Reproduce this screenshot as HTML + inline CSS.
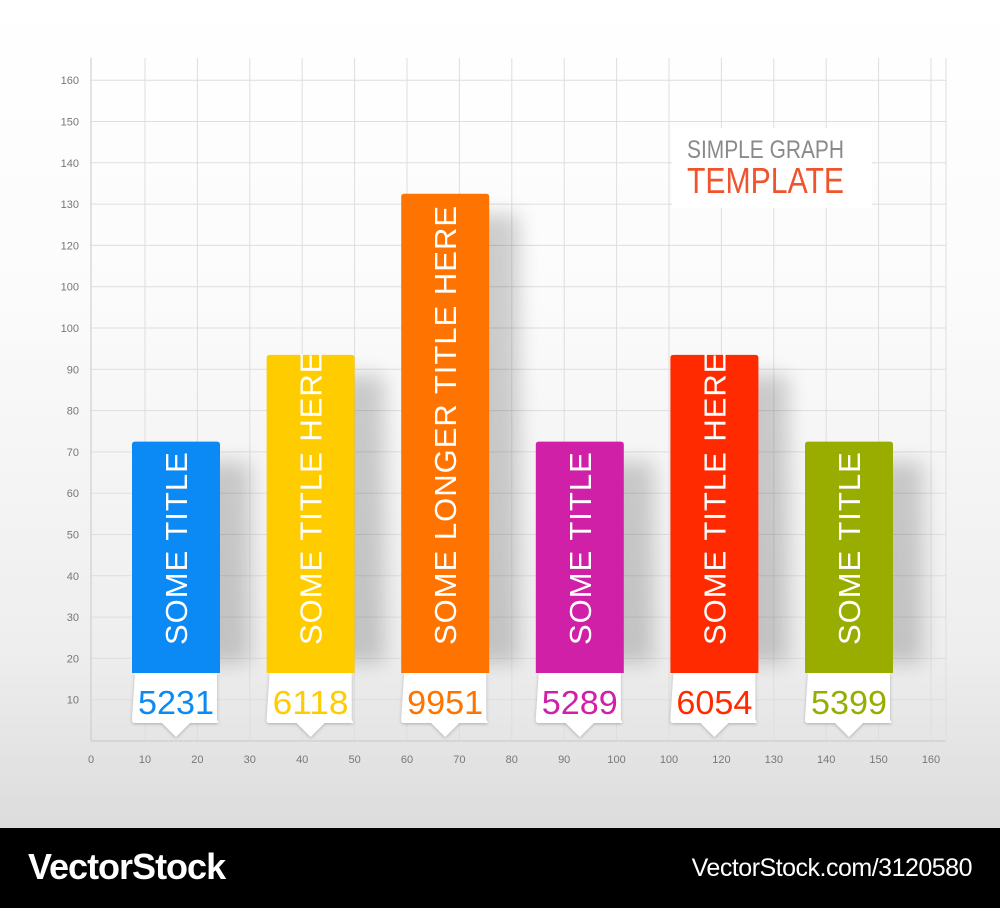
<!DOCTYPE html>
<html><head><meta charset="utf-8">
<style>
html,body{margin:0;padding:0}
body{width:1000px;height:908px;position:relative;overflow:hidden;font-family:"Liberation Sans",sans-serif;
background:linear-gradient(#ffffff 0px,#fbfbfb 300px,#eeeeee 650px,#dcdcdc 828px);}
#footer{position:absolute;left:0;top:828px;width:1000px;height:80px;background:#000;color:#fff}
#footer .l{position:absolute;left:28px;top:18px;font-size:36px;font-weight:bold;letter-spacing:-1px}
#footer .r{position:absolute;right:28px;top:26px;font-size:25px;letter-spacing:-0.5px}
</style></head>
<body>
<svg id="chart" width="1000" height="828" style="position:absolute;left:0;top:0">
<defs>
<filter id="sh" x="-50%" y="-20%" width="200%" height="140%"><feGaussianBlur stdDeviation="10"/></filter>
<filter id="ls" x="-20%" y="-20%" width="140%" height="160%"><feDropShadow dx="0" dy="1" stdDeviation="1.5" flood-color="#000" flood-opacity="0.25"/></filter>
</defs>
<g id="grid"></g>
<g id="bars"></g>
<g>
<rect x="672" y="128" width="200" height="80" fill="#fff"/>
<text x="687" y="158" font-size="25" fill="#8a8a8a" font-family="Liberation Sans" textLength="157" lengthAdjust="spacingAndGlyphs">SIMPLE GRAPH</text>
<text x="687" y="193" font-size="36" fill="#f0542c" font-family="Liberation Sans" textLength="157" lengthAdjust="spacingAndGlyphs">TEMPLATE</text>
</g>
</svg>
<div id="footer">
<div class="l">VectorStock</div>
<div class="r">VectorStock.com/3120580</div>
</div>
<script>
const categories=["SOME TITLE","SOME TITLE HERE","SOME LONGER TITLE HERE","SOME TITLE","SOME TITLE HERE","SOME TITLE"];
const heights=[72.5,93.5,132.5,72.5,93.5,72.5];
const numbers=["5231","6118","9951","5289","6054","5399"];
const colors=["#0b8af5","#ffcc00","#ff7300","#d020a8","#ff2a00","#99ad00"];
const yTicks=["10","20","30","40","50","60","70","80","90","100","100","120","130","140","150","160"];
const xTicks=["0","10","20","30","40","50","60","70","80","90","100","100","120","130","140","150","160"];
const NS="http://www.w3.org/2000/svg";
const y0=741, yPer=41.3/10;
function yS(v){return y0-v*yPer;}
function xS(i){return i===0?91:145+(i-1)*52.4;}
function bx(i){return 132+i*134.6;}
function mk(t,a,p){const e=document.createElementNS(NS,t);for(const k in a)e.setAttribute(k,a[k]);(p||document.getElementById('chart')).appendChild(e);return e;}
const grid=document.getElementById('grid');
yTicks.forEach((t,i)=>{const y=yS((i+1)*10);
const ln=mk('line',{x1:91,x2:946,y1:y,y2:y,stroke:'#dedede','stroke-width':1},grid);


const tx=mk('text',{x:79,y:y+4,'font-size':11,fill:'#777','text-anchor':'end','font-family':'Liberation Sans'},grid);tx.textContent=t;

});
xTicks.forEach((t,i)=>{const x=xS(i);
if(i>0){const ln=mk('line',{x1:x,x2:x,y1:58,y2:741,stroke:'#dedede','stroke-width':1},grid);

}
const tx=mk('text',{x:x,y:763,'font-size':11,fill:'#777','text-anchor':'middle','font-family':'Liberation Sans'},grid);tx.textContent=t;

});
const ya=mk('line',{x1:91,x2:91,y1:58,y2:741,stroke:'#c8c8c8'},grid);


const xa=mk('line',{x1:91,x2:946,y1:741,y2:741,stroke:'#c8c8c8'},grid);


const rl=mk('line',{x1:946,x2:946,y1:58,y2:741,stroke:'#dedede'},grid);


const bars=document.getElementById('bars');
heights.forEach((h,i)=>{const x=bx(i),w=88,top=yS(h),cb=673,lb=723;
const g=mk('g',{},bars);


mk('rect',{x:x+30,y:top+20,width:w,height:cb-top-30,fill:'#000',opacity:0.18,filter:'url(#sh)'},g);
const lbl=mk('g',{filter:'url(#ls)'},g);
mk('path',{d:`M${x+3},${cb} H${x+w-3} V${lb-3} Q${x+w},${lb} ${x+w-3},${lb} H${x+w/2+14} L${x+w/2},${lb+14} L${x+w/2-14},${lb} H${x+3} Q${x},${lb} ${x},${lb-3} Z`,fill:'#fff'},lbl);
const r=mk('path',{d:`M${x},${cb} V${top+3} Q${x},${top} ${x+3},${top} H${x+w-3} Q${x+w},${top} ${x+w},${top+3} V${cb} Z`,fill:colors[i]},g);
const t=mk('text',{transform:`translate(${x+w/2+11},${cb-28}) rotate(-90)`,'font-size':31,fill:'#fff','font-family':'Liberation Sans','letter-spacing':'1'},g);t.textContent=categories[i];


const n=mk('text',{x:x+w/2,y:lb-9,'font-size':33,fill:colors[i],'text-anchor':'middle','font-family':'Liberation Sans',textLength:76,lengthAdjust:'spacingAndGlyphs'},g);n.textContent=numbers[i];

});
</script>
</body></html>
